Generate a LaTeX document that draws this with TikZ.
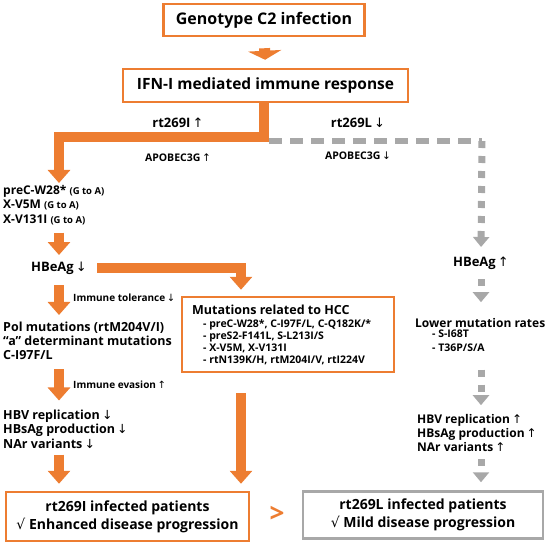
\documentclass[tikz,border=0pt]{standalone}
\usepackage{fontspec}
\setmainfont{Open Sans}
\newfontfamily\sym{DejaVu Sans}
\usetikzlibrary{arrows.meta}
\definecolor{orng}{RGB}{237,125,49}
\definecolor{gry}{RGB}{168,168,168}
\newcommand{\upa}{{\sym\mdseries\,↑}}
\newcommand{\dna}{{\sym\mdseries\,↓}}
\newcommand{\chk}{{\sym\mdseries √}}
\newcommand{\fs}[2]{\fontsize{#1}{#2}\selectfont}
\tikzset{
	obox/.style={draw=orng,line width=2.5pt,inner sep=0pt,align=center},
	gbox/.style={draw=gry,line width=2.5pt,inner sep=0pt,align=center},
	txt/.style={inner sep=0pt,align=left},
	oarr/.style={draw=orng,line width=10pt,-{Triangle[width=22pt,length=13pt]}},
	gdash/.style={draw=gry,line width=6pt,dash pattern=on 13pt off 8pt},
	garr/.style={draw=gry,line width=7pt,dash pattern=on 7pt off 8pt,-{Triangle[width=16pt,length=10pt]}}
}
\begin{document}
\begin{tikzpicture}[x=1pt,y=-1pt,font=\bfseries,line join=miter]
	\useasboundingbox (0,0) rectangle (550,544);
	%Boxes
	\node[obox,minimum width=201pt,minimum height=32pt,font=\bfseries\fs{16}{19}] (geno) at (264,20) {Genotype C2 infection};
	\node[obox,minimum width=285pt,minimum height=33pt,font=\bfseries\fs{15.5}{19}] (ifn) at (265.5,85.5) {IFN-I mediated immune response};
	\node[obox,minimum width=212pt,minimum height=75pt] (hcc) at (288,334.5) {};
	\node[obox,minimum width=243pt,minimum height=49pt,font=\bfseries\fs{14}{18}] (lbox) at (127.5,516.5) {rt269I infected patients\\ \chk\ Enhanced disease progression};
	\node[gbox,minimum width=240pt,minimum height=47pt,font=\bfseries\fs{14}{18}] (rbox) at (423,515) {rt269L infected patients\\ \chk\ Mild disease progression};
	\node[txt,text=orng,font=\bfseries\fs{26}{28}] (gt) at (277,514) {>};
	%Labels
	\node[txt,font=\bfseries\fs{13}{16}] (rtI) at (178,123) {rt269I\upa};
	\node[txt,font=\bfseries\fs{10.5}{12}] (apoI) at (178,158) {APOBEC3G\upa};
	\node[txt,font=\bfseries\fs{13}{16}] (rtL) at (358,123) {rt269L\dna};
	\node[txt,font=\bfseries\fs{10.5}{12}] (apoL) at (358,156) {APOBEC3G\dna};
	%Left column
	\node[txt,anchor=west,font=\bfseries\fs{12}{14.5}] (pre) at (3,205) {preC-W28* {\fs{9.5}{11}(G to A)}\\X-V5M {\fs{9.5}{11}(G to A)}\\X-V131I {\fs{9.5}{11}(G to A)}};
	\node[txt,font=\bfseries\fs{13}{15}] (hbe) at (59,268) {HBeAg\dna};
	\node[txt,anchor=west,font=\bfseries\fs{10}{12}] (tol) at (73,298) {Immune tolerance\dna};
	\node[txt,anchor=west,font=\bfseries\fs{12.5}{14}] (pol) at (3,341) {Pol mutations (rtM204V/I)\\“a” determinant mutations\\C-I97F/L};
	\node[txt,anchor=west,font=\bfseries\fs{10}{12}] (eva) at (73,385) {Immune evasion\upa};
	\node[txt,anchor=west,font=\bfseries\fs{12.5}{14.5}] (hbv) at (3,429) {HBV replication\dna\\HBsAg production\dna\\NAr variants\dna};
	%HCC
	\node[txt,anchor=west,font=\bfseries\fs{12.5}{14}] (hccT) at (192,310) {Mutations related to HCC};
	\node[txt,anchor=north west,font=\bfseries\fs{10.5}{12}] (hccL) at (203,319) {- preC-W28*, C-I97F/L, C-Q182K/*\\- preS2-F141L, S-L213I/S\\- X-V5M, X-V131I\\- rtN139K/H, rtM204I/V, rtI224V};
	%Right column
	\node[txt,font=\bfseries\fs{13}{15}] (hbeR) at (481,263) {HBeAg\upa};
	\node[txt,anchor=west,font=\bfseries\fs{12}{14}] (lowT) at (415,323) {Lower mutation rates};
	\node[txt,anchor=north west,font=\bfseries\fs{10.5}{13.5}] (lowL) at (432,330) {- S-I68T\\- T36P/S/A};
	\node[txt,anchor=west,font=\bfseries\fs{12}{14}] (hbvR) at (417,433) {HBV replication\upa\\HBsAg production\upa\\NAr variants\upa};
	%Arrows
	\coordinate (split) at (264,137);
	\coordinate (gstart) at (269,141);
	\coordinate (gcorner) at (482,141);
	\draw[draw=orng,line width=11pt,-{Triangle[width=33pt,length=9pt]},shorten <=11pt,shorten >=8pt] (geno.south) -- (ifn.north);
	\draw[oarr,shorten >=2pt] (ifn.south -| split) -- (split) -| (pre.north -| hbe);
	\draw[oarr,shorten <=7.5pt,shorten >=6.5pt] (pre.south -| hbe) -- (hbe.north);
	\draw[oarr,shorten <=10.5pt,shorten >=7pt] (hbe.south) -- (pol.north -| hbe);
	\draw[oarr,shorten <=9pt,shorten >=9pt] (pol.south -| hbe) -- (hbv.north -| hbe);
	\draw[oarr,shorten <=6pt,shorten >=7pt] (hbv.south -| hbe) -- (lbox.north -| hbe);
	\draw[oarr,shorten <=10pt,shorten >=6pt] (hbe.east) -| ([xshift=-47pt]hcc.north);
	\draw[oarr,shorten <=20pt,shorten >=7pt] ([xshift=-47pt]hcc.south) -- ([xshift=-47pt]hcc.south |- lbox.north);
	\draw[gdash] (gstart) -- (gcorner);
	\draw[garr,shorten >=9.5pt] (gcorner) -- (hbeR.north);
	\draw[garr,shorten <=9.5pt,shorten >=16pt] (hbeR.south) -- (lowT.north -| hbeR);
	\draw[garr,shorten <=18pt,shorten >=9pt] (lowL.south -| hbeR) -- (hbvR.north -| hbeR);
	\draw[garr,shorten <=7.5pt,shorten >=8pt] (hbvR.south -| hbeR) -- (rbox.north -| hbeR);
\end{tikzpicture}
\end{document}
